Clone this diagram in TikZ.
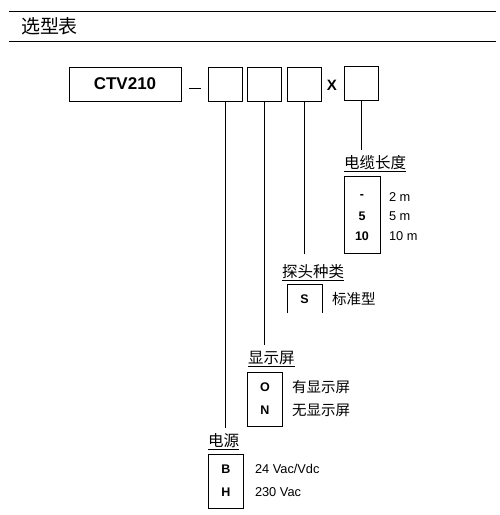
\documentclass[tikz,border=0pt]{standalone}
\usepackage{fontspec}
\setmainfont{Liberation Sans}
\newfontfamily\cjk{Noto Sans CJK SC}
\begin{document}
\begin{tikzpicture}[x=1pt,y=-1pt,
  every node/.style={inner sep=0pt,outer sep=0pt},
  codebox/.style={draw,line width=1pt,minimum width=34pt,minimum height=34pt},
  conn/.style={line width=1pt},
  optbox/.style={draw,line width=1pt},
  lbl/.style={anchor=west,font=\cjk\fontsize{15.5}{17}\selectfont},
  code/.style={font=\bfseries\fontsize{12.5}{14}\selectfont},
  desc/.style={anchor=west,font=\fontsize{12.8}{14}\selectfont},
  cdesc/.style={anchor=west,font=\cjk\fontsize{14.5}{16}\selectfont}]
\useasboundingbox (0,0) rectangle (499,515);
% header
\draw[line width=1pt] (9,11) -- (496,11);
\draw[line width=1pt] (9,41) -- (496,41);
\node[anchor=west,font=\cjk\fontsize{19}{21}\selectfont] (title) at (21,26) {选型表};
% code row
\node[draw,line width=1pt,minimum width=112pt,minimum height=34pt,font=\bfseries\fontsize{17}{19}\selectfont] (ctv) at (125,84) {CTV210};
\draw[line width=1pt] (189,88) -- (201,88);
\node[codebox] (b1) at (225.5,84) {};
\node[codebox] (b2) at (264.5,84) {};
\node[codebox] (b3) at (304,84) {};
\node[font=\bfseries\fontsize{15}{17}\selectfont] (x) at (332,85) {X};
\node[codebox] (b4) at (361,83) {};
% connector ends
\coordinate (e1) at (225.5,428);
\coordinate (e2) at (264.5,345);
\coordinate (e3) at (304,254);
\coordinate (e4) at (361,150);
\draw[conn] (b1.south) -- (e1);
\draw[conn] (b2.south) -- (e2);
\draw[conn] (b3.south) -- (e3);
\draw[conn] (b4.south) -- (e4);
% cable length
\node[lbl] (lcab) at (344,164) {\underline{电缆长度}};
\node[optbox,minimum width=36pt,minimum height=77pt] (cabbox) at (362,214.5) {};
\node[code] (c1) at (362,197) {-};
\node[code] (c2) at (362,216) {5};
\node[code] (c3) at (362,236) {10};
\node[desc] (d1) at (389,197) {2 m};
\node[desc] (d2) at (389,216) {5 m};
\node[desc] (d3) at (389,236) {10 m};
% probe type
\node[lbl] (lprb) at (282,273) {\underline{探头种类}};
\coordinate (s1) at (287,313);
\coordinate (s2) at (287,284);
\coordinate (s3) at (322,284);
\coordinate (s4) at (322,313);
\draw[line width=1pt] (s1) -- (s2) -- (s3) -- (s4);
\node[code] (sc) at (304.5,299) {S};
\node[cdesc] (sd) at (332,299) {标准型};
% display
\node[lbl] (ldis) at (248,359) {\underline{显示屏}};
\node[optbox,minimum width=35pt,minimum height=54pt] (onbox) at (264.5,399) {};
\node[code] (o1) at (265,387) {O};
\node[code] (o2) at (265,410) {N};
\node[cdesc] (od1) at (292,387) {有显示屏};
\node[cdesc] (od2) at (292,410) {无显示屏};
% power
\node[lbl] (lpow) at (208,442) {\underline{电源}};
\node[optbox,minimum width=35pt,minimum height=54pt] (bhbox) at (225.5,481) {};
\node[code] (p1) at (226,469) {B};
\node[code] (p2) at (226,492) {H};
\node[desc] (pd1) at (255,469) {24 Vac/Vdc};
\node[desc] (pd2) at (255,492) {230 Vac};
\end{tikzpicture}
\end{document}
